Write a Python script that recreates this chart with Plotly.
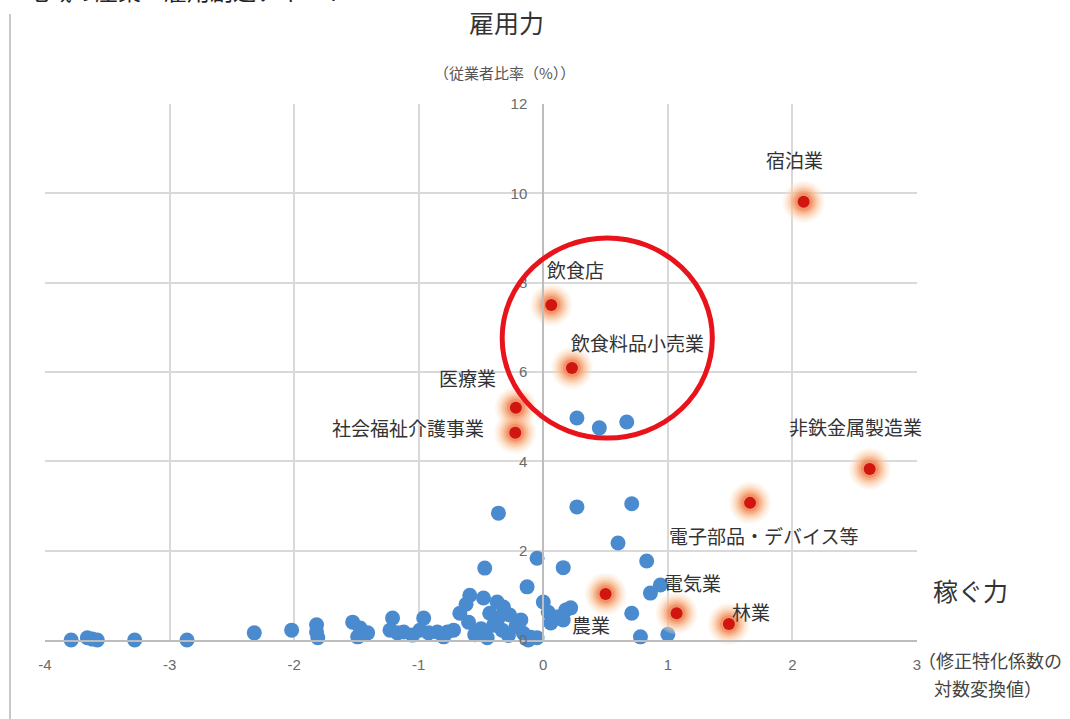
import plotly.graph_objects as go

# ---------------- data ----------------
blue_x = [-3.79, -3.66, -3.62, -3.58, -3.28, -2.86, -2.32, -2.02, -1.82, -1.82, -1.81,
          -1.53, -1.47, -1.41, -1.49, -1.21, -1.23, -1.17, -1.12, -1.05,
          -0.96, -0.99, -0.92, -0.85, -0.80, -0.72, -0.77, -0.67, -0.62,
          -0.59, -0.48, -0.37, -0.32, -0.43, -0.60, -0.55, -0.52, -0.40, -0.33, -0.27,
          -0.18, -0.16, -0.10, -0.12, -0.05, -0.22, -0.28, -0.45, -0.50, -0.36,
          0.00, 0.04, 0.06, 0.12, 0.18, 0.16, 0.22,
          -0.13, -0.47, -0.36, -0.05, 0.16, 0.27, 0.71, 0.60, 0.83, 0.86, 0.94,
          0.71, 0.78, 1.00, 0.27, 0.45, 0.67]
blue_y = [0.00, 0.05, 0.02, 0.00, 0.00, 0.00, 0.16, 0.22, 0.34, 0.18, 0.05,
          0.40, 0.27, 0.16, 0.07, 0.49, 0.22, 0.16, 0.18, 0.11,
          0.49, 0.22, 0.16, 0.18, 0.07, 0.22, 0.18, 0.60, 0.80,
          1.00, 0.94, 0.85, 0.74, 0.60, 0.40, 0.12, 0.15, 0.33, 0.22, 0.56,
          0.45, 0.15, 0.06, 0.00, 0.05, 0.30, 0.10, 0.05, 0.25, 0.50,
          0.85, 0.62, 0.38, 0.52, 0.67, 0.45, 0.72,
          1.19, 1.61, 2.84, 1.83, 1.62, 2.98, 3.05, 2.17, 1.77, 1.05, 1.23,
          0.60, 0.07, 0.13, 4.97, 4.75, 4.88]

red_names = ["宿泊業", "飲食店", "飲食料品小売業", "医療業", "社会福祉介護事業",
             "非鉄金属製造業", "電子部品・デバイス等", "農業", "電気業", "林業"]
red_x = [2.09, 0.064, 0.23, -0.22, -0.225, 2.62, 1.66, 0.50, 1.07, 1.49]
red_y = [9.81, 7.50, 6.09, 5.20, 4.64, 3.83, 3.07, 1.03, 0.60, 0.36]
# label anchor positions (data units)
label_x = [2.016, 0.257, 0.755, -0.61, -1.09, 2.506, 1.767, 0.386, 1.197, 1.67]
label_y = [10.75, 8.29, 6.67, 5.87, 4.75, 4.77, 2.35, 0.34, 1.28, 0.63]

x_ticks = [-4, -3, -2, -1, 0, 1, 2, 3]
y_ticks = [0, 2, 4, 6, 8, 10, 12]

JP = "Noto Sans CJK JP"
TICK_FONT = dict(family="Liberation Sans", size=15, color="#6a6a6a")

fig = go.Figure()

fig.add_trace(go.Scatter(
    x=blue_x, y=blue_y, mode="markers", cliponaxis=False,
    marker=dict(size=15, color="#4a8bd0", line=dict(width=0)),
    hoverinfo="skip", showlegend=False))

# soft glow around the highlighted points
glow = [(42, "#fde3cc", 0.25), (38, "#fcd5b5", 0.25), (34, "#fac49c", 0.25), (30, "#f8b185", 0.3),
        (26, "#f59c6c", 0.3), (22, "#f28656", 0.35), (18, "#ee6e42", 0.4)]
for size, col, op in glow:
    fig.add_trace(go.Scatter(
        x=red_x, y=red_y, mode="markers", cliponaxis=False,
        marker=dict(size=size, color=col, opacity=op, line=dict(width=0)),
        hoverinfo="skip", showlegend=False))
fig.add_trace(go.Scatter(
    x=red_x, y=red_y, mode="markers", cliponaxis=False,
    marker=dict(size=12, color="#d0160f", line=dict(width=0)),
    text=red_names, showlegend=False))

for name, lx, ly in zip(red_names, label_x, label_y):
    fig.add_annotation(x=lx, y=ly, text=name, showarrow=False,
                       font=dict(family=JP, size=19, color="#333333"),
                       xanchor="center", yanchor="middle")

# red circle
fig.add_shape(type="circle", xref="x", yref="y", x0=-0.33, x1=1.357, y0=4.52, y1=9.0,
              line=dict(color="#e8131b", width=5))

# left frame line
fig.add_shape(type="line", xref="paper", yref="paper", x0=-0.0401, x1=-0.0401,
              y0=-0.16, y1=1.168, line=dict(color="#c8c8c8", width=2))

# axis titles and page title
def paper_text(x, y, text, size, color):
    fig.add_annotation(xref="paper", yref="paper", x=x, y=y, text=text, showarrow=False,
                       xanchor="center", yanchor="middle",
                       font=dict(family=JP, size=size, color=color))

paper_text(0.5298, 1.153, "雇用力", 25, "#333333")
paper_text(0.5275, 1.058, "（従業者比率（%））", 15, "#555555")
paper_text(1.0608, 0.0933, "稼ぐ力", 25, "#333333")
paper_text(1.0837, -0.0373, "（修正特化係数の", 18, "#444444")
paper_text(1.0814, -0.0896, "対数変換値）", 18, "#444444")
fig.add_annotation(xref="paper", yref="paper", x=-0.024, y=1.212, text="地域の産業・雇用創造チャート",
                   showarrow=False, xanchor="left", yanchor="middle",
                   font=dict(family=JP, size=23, color="#222222"))

fig.update_layout(
    width=1070, height=719,
    margin=dict(l=45, r=153, t=104, b=79),
    paper_bgcolor="white", plot_bgcolor="white",
    xaxis=dict(range=[-4, 3], tickvals=x_ticks, ticktext=[str(v) for v in x_ticks],
               showgrid=True, gridcolor="#d9d9d9", gridwidth=1.5,
               showline=True, linecolor="#bdbdbd", linewidth=2, zeroline=False,
               ticks="", ticklabelstandoff=10, tickfont=TICK_FONT),
    yaxis=dict(range=[0, 12], tickvals=y_ticks, ticktext=[str(v) for v in y_ticks],
               anchor="free", position=4 / 7, side="left",
               showgrid=True, gridcolor="#d9d9d9", gridwidth=1.5,
               showline=True, linecolor="#bdbdbd", linewidth=2, zeroline=False,
               ticks="", ticklabelstandoff=12, tickfont=TICK_FONT),
)

fig.write_html("out.html")
